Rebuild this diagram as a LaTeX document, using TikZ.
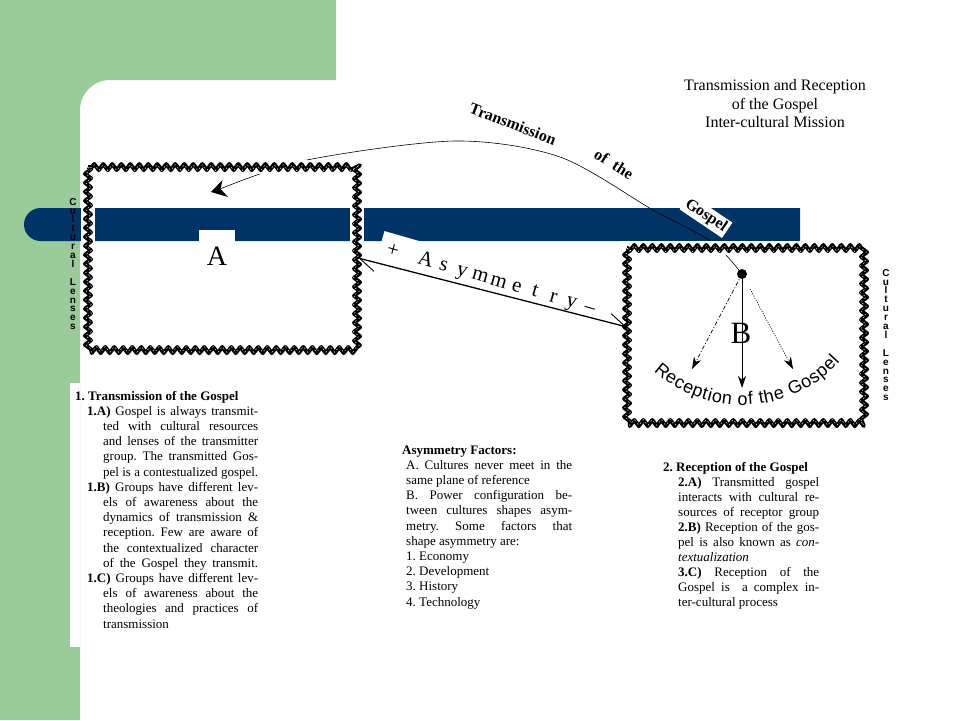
\documentclass[tikz,border=0pt]{standalone}
\usepackage{fontspec}
\setmainfont{Liberation Serif}
\newfontfamily\arialf{Liberation Sans}
\usetikzlibrary{decorations.pathmorphing,decorations.text,arrows.meta}
\definecolor{sgreen}{RGB}{153,204,153}
\definecolor{bandblue}{RGB}{0,51,102}
\tikzset{
  zzu/.style={white,line width=14pt},
  zzb/.style={black,decorate,decoration={zigzag,segment length=9pt,amplitude=3pt},line width=4pt,line join=round},
  zzs/.style={white,decorate,decoration={zigzag,segment length=9pt,amplitude=3pt,raise=0.6pt},line width=0.4pt,dash pattern=on 1.5pt off 3pt},
  lens/.style={font=\arialf\bfseries\fontsize{10}{8.9}\selectfont,align=center,inner sep=0pt},
  curvelab/.style={font=\bfseries\fontsize{16}{16}\selectfont,inner sep=1pt},
  blocktxt/.style={anchor=base west,inner sep=0pt},
  bigletter/.style={inner sep=0pt},
  curveline/.style={line width=0.6pt},
  asymline/.style={line width=1.3pt,{Straight Barb[harpoon,length=17pt,width=18pt,line width=0.9pt]}-{Straight Barb[harpoon,length=17pt,width=18pt,line width=0.9pt]}},
  recarrow/.style={-{Stealth[length=12pt,width=8pt]}},
}
\newcommand{\lsbox}[1]{\makebox[19pt]{#1}}
\newcommand{\blockfmt}{\hyphenpenalty=10000\tolerance=10000\hbadness=10000\hfuzz=20pt\parindent=0pt\frenchspacing}
\begin{document}
\begin{tikzpicture}[x=1pt,y=-1pt]
\useasboundingbox (0,0) rectangle (960,720);
\fill[white] (0,0) rectangle (960,720);
% green frame
\fill[sgreen] (0,0) -- (336,0) -- (336,80) -- (110,80) .. controls (93.4,80) and (80,93.4) .. (80,110) -- (80,720) -- (0,720) -- cycle;
\fill[white] (70,383) rectangle (80,647);
% blue band
\fill[bandblue] (800,208) -- (40.5,208) .. controls (31.4,208) and (24,215.4) .. (24,224.5) .. controls (24,233.6) and (31.4,241) .. (40.5,241) -- (800,241) -- cycle;

% transmission curve
\coordinate (arrTip) at (211,192);
\coordinate (arrA) at (220.5,188.8);
\coordinate (c1) at (307,160);
\coordinate (c2) at (455,141);
\coordinate (c3) at (560,157);
\coordinate (c4) at (653,210);
\coordinate (c5) at (712,242);
\node[circle,fill=black,inner sep=0pt,minimum size=10pt] (dotB) at (742,274) {};
\draw[curveline] plot[smooth,tension=0.5] coordinates {(dotB.center) (c5) (c4) (c3) (c2) (c1) (arrA)};
\fill[black,line join=round] (arrTip) -- (228,197) -- (arrA) -- (222.5,180) -- cycle;

% zigzag boxes
\draw[zzu] (88,167) rectangle (357,350);
\draw[zzb] (88,167) rectangle (357,350);
\draw[zzs] (88,167) rectangle (357,350);
\draw[zzu] (627,248) rectangle (864,423);
\draw[zzb] (627,248) rectangle (864,423);
\draw[zzs] (627,248) rectangle (864,423);

% A label
\node[bigletter,fill=white,minimum width=36pt,text height=35pt,text depth=0pt,anchor=base,font=\fontsize{28}{28}\selectfont] (labA) at (217,265) {A};

% asymmetry
\node[fill=white,rotate=-16,inner xsep=4pt,inner ysep=1pt,text height=21pt,text depth=6pt,font=\fontsize{21}{21}\selectfont] (asymlab) at (492,277)
  {\lsbox{+}\hspace{15pt}\lsbox{A}\lsbox{s}\lsbox{y}\lsbox{m}\lsbox{m}\lsbox{e}\lsbox{t}\lsbox{r}\lsbox{y}\lsbox{--}};
\coordinate (asL) at (358,258);
\coordinate (asR) at (627,327);
\draw[asymline] (asL) -- (asR);

% curve labels
\node[curvelab,rotate=-21] (lab1) at (513,124) {Transmission};
\node[curvelab,rotate=-32] (lab2) at (614,164) {of\ \ the};
\node[curvelab,rotate=-34,fill=white,inner sep=2pt] (lab3) at (706,216) {Gospel\hspace{22pt}};

% B content
\coordinate (bDown) at (742,388);
\coordinate (bLeft) at (692,369);
\coordinate (bRight) at (793,369);
\draw[recarrow,line width=0.8pt] (dotB.center) -- (bDown);
\draw[recarrow,line width=0.7pt,dash pattern=on 4pt off 2pt on 1pt off 2pt] (dotB.center) -- (bLeft);
\draw[recarrow,line width=0.7pt,dash pattern=on 1pt off 1.5pt,shorten <=17pt] (dotB.center) -- (bRight);
\node[bigletter,font=\fontsize{31}{31}\selectfont,anchor=base] (labB) at (741,343) {B};
\path[decorate,decoration={text along path,text align={fit to path},
  text={|\arialf\fontsize{18}{18}\selectfont|Reception of the Gospel}}]
  plot[domain=0:1,samples=80] ({742+132*cos(132-90*\x)},{273+132*sin(132-90*\x)});

% cultural lenses
\node[lens] (lensL) at (73,264) {C\\u\\l\\t\\u\\r\\a\\l\\~\\L\\e\\n\\s\\e\\s};
\node[lens] (lensR) at (886,335) {C\\u\\l\\t\\u\\r\\a\\l\\~\\L\\e\\n\\s\\e\\s};

% title
\node[align=center,inner sep=0pt,font=\fontsize{16}{18.5}\selectfont] (title) at (775,104)
  {Transmission and Reception\\of the Gospel\\Inter-cultural Mission};

% text blocks
\node[blocktxt,font=\fontsize{13}{15.2}\selectfont] (blk1) at (75,400) {\parbox[t]{183pt}{\blockfmt
\textbf{1. Transmission of the Gospel}\par
{\leftskip=12pt\hangindent=16pt\hangafter=1\parfillskip=0pt
\textbf{1.A)} Gospel is always transmit-\linebreak
ted with cultural resources\linebreak
and lenses of the transmitter\linebreak
group. The transmitted Gos-\linebreak
pel is a contestualized gospel.\par}
{\leftskip=12pt\hangindent=16pt\hangafter=1\parfillskip=0pt
\textbf{1.B)} Groups have different lev-\linebreak
els of awareness about the\linebreak
dynamics of transmission \&\linebreak
reception. Few are aware of\linebreak
the contextualized character\linebreak
of the Gospel they transmit.\par}
{\leftskip=12pt\hangindent=16pt\hangafter=1
\textbf{1.C)} Groups have different lev-\linebreak
els of awareness about the\linebreak
theologies and practices of\linebreak
transmission\par}}};

\node[blocktxt,font=\fontsize{13}{15.2}\selectfont] (blk2) at (402,454) {\parbox[t]{170pt}{\blockfmt
\textbf{Asymmetry Factors:}\par
{\leftskip=4pt
A. Cultures never meet in the\linebreak
same plane of reference\par
B. Power configuration be-\linebreak
tween cultures shapes asym-\linebreak
metry. Some factors that\linebreak
shape asymmetry are:\par
1. Economy\par
2. Development\par
3. History\par
4. Technology\par}}};

\node[blocktxt,font=\fontsize{13}{15}\selectfont] (blk3) at (663,471) {\parbox[t]{156pt}{\blockfmt
\textbf{2. Reception of the Gospel}\par
{\leftskip=15pt\parfillskip=0pt
\textbf{2.A)} Transmitted gospel\linebreak
interacts with cultural re-\linebreak
sources of receptor group\par}
{\leftskip=15pt
\textbf{2.B)} Reception of the gos-\linebreak
pel is also known as \textit{con-}\linebreak
\textit{textualization}\par
\textbf{3.C)} Reception of the\linebreak
Gospel is\ \ a complex in-\linebreak
ter-cultural process\par}}};
\end{tikzpicture}
\end{document}
